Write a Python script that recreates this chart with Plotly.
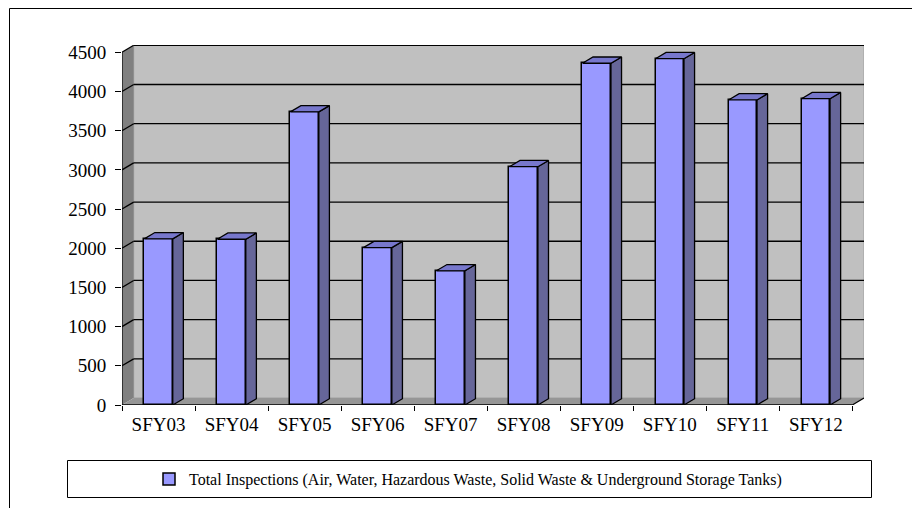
import plotly.graph_objects as go

# ---- data ----
categories = ["SFY03", "SFY04", "SFY05", "SFY06", "SFY07",
              "SFY08", "SFY09", "SFY10", "SFY11", "SFY12"]
inspections = [2120, 2115, 3740, 2008, 1712, 3040, 4360, 4418, 3892, 3908]
y_ticks = [0, 500, 1000, 1500, 2000, 2500, 3000, 3500, 4000, 4500]
series_name = ("Total Inspections (Air, Water, Hazardous Waste, "
               "Solid Waste & Underground Storage Tanks)")

# ---- page geometry ----
W, H = 912, 508
ML, MR, MT, MB = 122, 48, 45, 103
PW, PH = W - ML - MR, H - MT - MB

Y_TOP = 4500
WALL_DX = 0.16          # depth of the walls/floor in category units
WALL_DY = 89            # depth of the walls/floor in value units
BAR_DX = 0.145          # depth of each column
BAR_DY = 80
HALF = 0.195            # half width of a column's front face

x_lo, x_hi = -0.5, len(categories) - 0.5
x_range = [x_lo, x_hi + WALL_DX]
y_range = [0, Y_TOP + WALL_DY + 4]

FONT = "Liberation Serif"


def px_to_paper(px, py):
    return (px - ML) / PW, (H - MB - py) / PH


def poly(points):
    return "M " + " L ".join(f"{x},{y}" for x, y in points) + " Z"


fig = go.Figure()

# front faces of the columns
fig.add_trace(go.Bar(
    x=list(range(len(categories))), y=inspections, width=2 * HALF,
    marker=dict(color="#9999FF", line=dict(color="black", width=1.5)),
    name=series_name, showlegend=True, hoverinfo="skip",
))

# right side and top faces of each column
for i, v in enumerate(inspections):
    xr = i + HALF
    fig.add_trace(go.Scatter(
        x=[xr, xr + BAR_DX, xr + BAR_DX, xr, xr],
        y=[0, BAR_DY, v + BAR_DY, v, 0],
        mode="lines", fill="toself", fillcolor="#666699",
        line=dict(color="black", width=1.3), showlegend=False, hoverinfo="skip",
    ))
    fig.add_trace(go.Scatter(
        x=[i - HALF, xr, xr + BAR_DX, i - HALF + BAR_DX, i - HALF],
        y=[v, v, v + BAR_DY, v + BAR_DY, v],
        mode="lines", fill="toself", fillcolor="#7777CC",
        line=dict(color="black", width=1.3), showlegend=False, hoverinfo="skip",
    ))

shapes = []
# back wall
shapes.append(dict(type="path", xref="x", yref="y", layer="below",
                   path=poly([(x_lo + WALL_DX, WALL_DY), (x_hi + WALL_DX, WALL_DY),
                              (x_hi + WALL_DX, Y_TOP + WALL_DY),
                              (x_lo + WALL_DX, Y_TOP + WALL_DY)]),
                   fillcolor="#C0C0C0", line=dict(color="#A0A0A0", width=1)))
# left side wall
shapes.append(dict(type="path", xref="x", yref="y", layer="below",
                   path=poly([(x_lo, 0), (x_lo + WALL_DX, WALL_DY),
                              (x_lo + WALL_DX, Y_TOP + WALL_DY), (x_lo, Y_TOP)]),
                   fillcolor="#808080", line=dict(width=0)))
# floor
shapes.append(dict(type="path", xref="x", yref="y", layer="below",
                   path=poly([(x_lo, 0), (x_hi, 0), (x_hi + WALL_DX, WALL_DY),
                              (x_lo + WALL_DX, WALL_DY)]),
                   fillcolor="#969696", line=dict(width=0)))
# gridlines on the back wall and the side wall
for t in y_ticks[1:]:
    shapes.append(dict(type="line", xref="x", yref="y", layer="below",
                       x0=x_lo + WALL_DX, x1=x_hi + WALL_DX,
                       y0=t + WALL_DY, y1=t + WALL_DY,
                       line=dict(color="black", width=1.3)))
    shapes.append(dict(type="line", xref="x", yref="y", layer="below",
                       x0=x_lo, x1=x_lo + WALL_DX, y0=t, y1=t + WALL_DY,
                       line=dict(color="black", width=1.3)))
# axis edges
shapes.append(dict(type="line", xref="x", yref="y", layer="below",
                   x0=x_lo, x1=x_lo, y0=0, y1=Y_TOP,
                   line=dict(color="black", width=1.2)))
shapes.append(dict(type="line", xref="x", yref="y", layer="below",
                   x0=x_lo, x1=x_hi, y0=0, y1=0,
                   line=dict(color="black", width=1.3)))
shapes.append(dict(type="line", xref="x", yref="y", layer="below",
                   x0=x_hi, x1=x_hi + WALL_DX, y0=0, y1=WALL_DY,
                   line=dict(color="black", width=1.2)))

# outer frame (top and left edges)
fx0, fy0 = px_to_paper(9.5, 8.5)
fx1, _ = px_to_paper(W + 2, 8.5)
_, fy1 = px_to_paper(9.5, H + 2)
shapes.append(dict(type="line", xref="paper", yref="paper", x0=fx0, x1=fx1,
                   y0=fy0, y1=fy0, line=dict(color="black", width=1)))
shapes.append(dict(type="line", xref="paper", yref="paper", x0=fx0, x1=fx0,
                   y0=fy0, y1=fy1, line=dict(color="black", width=1)))

# legend box
lx0, ly0 = px_to_paper(67.5, 460.5)
lx1, ly1 = px_to_paper(871.5, 497.5)
shapes.append(dict(type="rect", xref="paper", yref="paper",
                   x0=lx0, x1=lx1, y0=ly1, y1=ly0,
                   line=dict(color="black", width=1), fillcolor="rgba(0,0,0,0)"))

leg_x, leg_y = px_to_paper(468, 479)

fig.update_layout(
    width=W, height=H,
    margin=dict(l=ML, r=MR, t=MT, b=MB),
    paper_bgcolor="white", plot_bgcolor="white",
    font=dict(family=FONT, color="black"),
    shapes=shapes,
    bargap=0,
    showlegend=True,
    legend=dict(orientation="h", x=leg_x, y=leg_y, xanchor="center", yanchor="middle",
                font=dict(family=FONT, size=16, color="black"),
                bgcolor="rgba(0,0,0,0)", borderwidth=0, itemwidth=30),
    xaxis=dict(range=x_range, showgrid=False, zeroline=False, showline=False,
               tickmode="array", tickvals=list(range(len(categories))),
               ticktext=categories, ticks="",
               tickfont=dict(family=FONT, size=19, color="black"),
               ticklabelstandoff=6,
               minor=dict(tickmode="array",
                          tickvals=[x_lo + k for k in range(len(categories) + 1)],
                          ticks="outside", ticklen=5, tickcolor="black", tickwidth=1,
                          showgrid=False)),
    yaxis=dict(range=y_range, showgrid=False, zeroline=False, showline=False,
               tickmode="array", tickvals=y_ticks, ticks="outside",
               ticklen=6, tickcolor="black", tickwidth=1,
               tickfont=dict(family=FONT, size=19, color="black"),
               ticklabelstandoff=5),
)

fig.write_html("out.html")
